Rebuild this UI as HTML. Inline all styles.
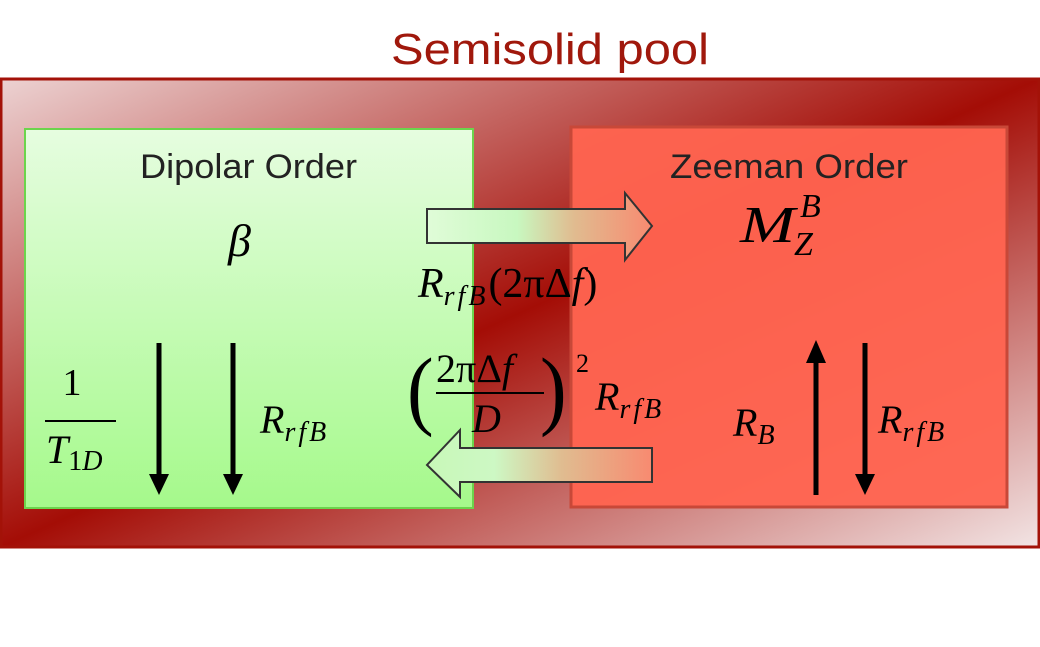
<!DOCTYPE html>
<html><head><meta charset="utf-8"><style>
html,body{margin:0;padding:0;background:#fff;width:1040px;height:647px;overflow:hidden}
svg text{font-family:"Liberation Serif",serif;fill:#000}
.s{font-family:"Liberation Sans",sans-serif}
</style></head><body>
<svg width="1040" height="647" viewBox="0 0 1040 647" xmlns="http://www.w3.org/2000/svg">
<defs>
<linearGradient id="pool" x1="0" y1="0" x2="1" y2="1">
<stop offset="0" stop-color="#ecd2d2"/>
<stop offset="0.5" stop-color="#a40d06"/>
<stop offset="1" stop-color="#f2e4e4"/>
</linearGradient>
<linearGradient id="green" x1="0" y1="0" x2="0" y2="1">
<stop offset="0" stop-color="#e6fde0"/>
<stop offset="1" stop-color="#a5f98b"/>
</linearGradient>
<linearGradient id="arr" x1="0" y1="0" x2="1" y2="0">
<stop offset="0" stop-color="#e0fcd8"/>
<stop offset="0.4" stop-color="#c8f8c0"/>
<stop offset="0.65" stop-color="#e0bc90"/>
<stop offset="1" stop-color="#f88a70"/>
</linearGradient>
<linearGradient id="arrL" x1="0" y1="0" x2="1" y2="0">
<stop offset="0" stop-color="#c8f8b8"/>
<stop offset="0.3" stop-color="#cdf8c4"/>
<stop offset="0.6" stop-color="#e0bc90"/>
<stop offset="1" stop-color="#f88a70"/>
</linearGradient>
</defs>
<text x="550" y="64" text-anchor="middle" class="s" font-size="44" style="fill:#a0180c" textLength="318" lengthAdjust="spacingAndGlyphs">Semisolid pool</text>
<rect x="1" y="79" width="1038" height="468" fill="url(#pool)" stroke="#a31208" stroke-width="3"/>
<rect x="25" y="129" width="448" height="379" fill="url(#green)" stroke="#6cd44c" stroke-width="2"/>
<rect x="571" y="127" width="436" height="380" fill="#ff6450" fill-opacity="0.96" stroke="#c84838" stroke-width="3"/>
<text x="140" y="178" class="s" font-size="34" style="fill:#222" textLength="217" lengthAdjust="spacingAndGlyphs">Dipolar Order</text>
<text x="670" y="178" class="s" font-size="34" style="fill:#222" textLength="238" lengthAdjust="spacingAndGlyphs">Zeeman Order</text>
<text x="228" y="256" font-size="46" font-style="italic">β</text>
<text x="740" y="242" font-size="52" font-style="italic" textLength="55" lengthAdjust="spacingAndGlyphs">M</text>
<text x="800" y="217" font-size="34" font-style="italic">B</text>
<text x="794" y="255" font-size="34" font-style="italic">Z</text>
<path d="M427,209 H625 V193 L652,226 L625,260 V243 H427 Z" fill="url(#arr)" stroke="#333" stroke-width="2"/>
<path d="M652,448 H460 V430 L427,465 L460,497 V482 H652 Z" fill="url(#arrL)" stroke="#333" stroke-width="2"/>
<text x="418" y="297" font-size="42"><tspan font-style="italic">R</tspan><tspan font-size="28" font-style="italic" dy="8" letter-spacing="3">rfB</tspan><tspan dy="-8">(2πΔ</tspan><tspan font-style="italic">f</tspan>)</text>
<text x="407" y="417" font-size="80" transform="translate(0,-40) scale(1,1.1)">(</text>
<text x="436" y="382" font-size="40">2πΔ<tspan font-style="italic">f</tspan></text>
<line x1="436" y1="393" x2="544" y2="393" stroke="#000" stroke-width="2"/>
<text x="472" y="432" font-size="40" font-style="italic">D</text>
<text x="540" y="417" font-size="80" transform="translate(0,-40) scale(1,1.1)">)</text>
<text x="576" y="372" font-size="26">2</text>
<text x="595" y="410" font-size="40"><tspan font-style="italic">R</tspan><tspan font-size="28" font-style="italic" dy="8" letter-spacing="3">rfB</tspan></text>
<text x="72" y="395" font-size="38" text-anchor="middle">1</text>
<line x1="45" y1="421" x2="116" y2="421" stroke="#000" stroke-width="2"/>
<text x="46" y="463" font-size="40"><tspan font-style="italic">T</tspan><tspan font-size="28" dy="7">1</tspan><tspan font-size="28" font-style="italic">D</tspan></text>
<text x="260" y="433" font-size="40"><tspan font-style="italic">R</tspan><tspan font-size="28" font-style="italic" dy="8" letter-spacing="3">rfB</tspan></text>
<text x="733" y="436" font-size="40"><tspan font-style="italic">R</tspan><tspan font-size="28" font-style="italic" dy="8">B</tspan></text>
<text x="878" y="433" font-size="40"><tspan font-style="italic">R</tspan><tspan font-size="28" font-style="italic" dy="8" letter-spacing="3">rfB</tspan></text>
<g fill="#000">
<rect x="156.5" y="343" width="5" height="132"/><path d="M149,474 H169 L159,495 Z"/>
<rect x="230.5" y="343" width="5" height="132"/><path d="M223,474 H243 L233,495 Z"/>
<rect x="813.5" y="362" width="5" height="133"/><path d="M806,363 H826 L816,340 Z"/>
<rect x="862.5" y="343" width="5" height="132"/><path d="M855,474 H875 L865,495 Z"/>
</g>
</svg>
</body></html>
